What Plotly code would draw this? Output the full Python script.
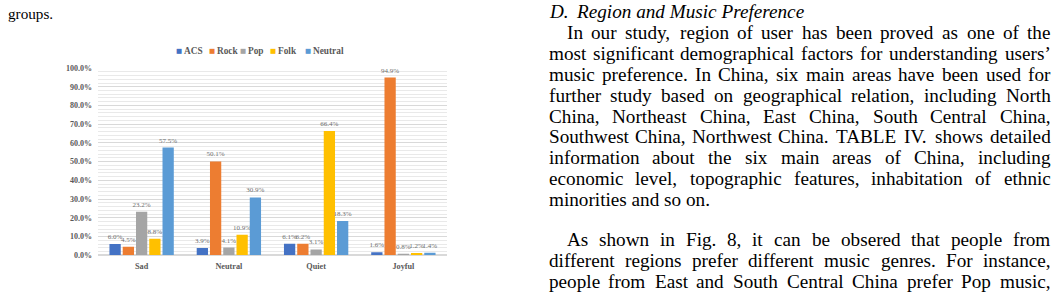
import plotly.graph_objects as go

W, H = 1056, 302

# ---------------- chart data ----------------
categories = ["Sad", "Neutral", "Quiet", "Joyful"]
acs_values = [6.0, 3.9, 6.1, 1.6]
rock_values = [4.5, 50.1, 6.2, 94.9]
pop_values = [23.2, 4.1, 3.1, 0.8]
folk_values = [8.8, 10.9, 66.4, 1.2]
neutral_values = [57.5, 30.9, 18.3, 1.4]
series_names = ["ACS", "Rock", "Pop", "Folk", "Neutral"]
series_colors = ["#4472C4", "#ED7D31", "#A5A5A5", "#FFC000", "#5B9BD5"]
y_tick_values = [0, 10, 20, 30, 40, 50, 60, 70, 80, 90, 100]
y_tick_labels = ["0.0%", "10.0%", "20.0%", "30.0%", "40.0%", "50.0%",
                 "60.0%", "70.0%", "80.0%", "90.0%", "100.0%"]

# ---------------- page text ----------------
caption_tail = "groups."
heading_number = "D."
heading_title = "Region and Music Preference"
paragraph_1 = [
    "In our study, region of user has been proved as one of the",
    "most significant demographical factors for understanding users\u2019",
    "music preference. In China, six main areas have been used for",
    "further study based on geographical relation, including North",
    "China, Northeast China, East China, South Central China,",
    "Southwest China, Northwest China. TABLE IV. shows detailed",
    "information about the six main areas of China, including",
    "economic level, topographic features, inhabitation of ethnic",
    "minorities and so on.",
]
paragraph_2 = [
    "As shown in Fig. 8, it can be obsered that people from",
    "different regions prefer different music genres. For instance,",
    "people from East and South Central China prefer Pop music,",
]

all_series = [acs_values, rock_values, pop_values, folk_values, neutral_values]

fig = go.Figure()
for name, vals, col in zip(series_names, all_series, series_colors):
    fig.add_trace(go.Bar(
        x=categories, y=vals, name=name,
        marker=dict(color=col, line=dict(width=0)),
        text=[f"{v:.1f}%" for v in vals],
        textposition="outside",
        constraintext="none",
        cliponaxis=False,
        textfont=dict(family="Liberation Serif", size=7, color="#6f6f6f"),
        showlegend=False,
    ))

SERIF = "Liberation Serif"
annotations = []

def ax(x):
    return x / W

def ay(y):
    return 1 - y / H

# manual legend (small squares + bold labels)
legend_square_x = [179, 211.5, 242.5, 272.5, 307.5]
legend_label_x = [183, 215.5, 246.5, 277, 311.5]
for name, col, sx, lx in zip(series_names, series_colors, legend_square_x, legend_label_x):
    annotations.append(dict(x=ax(sx), y=ay(48), xref="paper", yref="paper",
                            xanchor="center", yanchor="middle", showarrow=False,
                            text="\u25A0", borderpad=0,
                            font=dict(family="DejaVu Sans", size=6.5, color=col)))
    annotations.append(dict(x=ax(lx), y=ay(48), xref="paper", yref="paper",
                            xanchor="left", yanchor="middle", showarrow=False,
                            text=name, borderpad=0,
                            font=dict(family=SERIF, size=9.3, color="#595959", weight="bold")))

# Times / Liberation Serif advance widths (per 1000 em)
TW = {' ': 250, ',': 250, '.': 250, '\u2019': 333, "'": 180, '-': 333, ':': 278, ';': 278}
TW.update({d: 500 for d in "0123456789"})
TW.update(dict(zip("ABCDEFGHIJKLMNOPQRSTUVWXYZ",
                   [722, 667, 667, 722, 611, 556, 722, 722, 333, 389, 722, 611, 889,
                    722, 722, 556, 722, 667, 556, 611, 722, 722, 944, 722, 722, 611])))
TW.update(dict(zip("abcdefghijklmnopqrstuvwxyz",
                   [444, 500, 444, 500, 444, 333, 500, 500, 278, 278, 500, 278, 778,
                    500, 500, 500, 500, 333, 389, 278, 500, 500, 722, 500, 500, 444])))

BODY = 19.2
LEFT = 547.5
INDENT = 565.5
RIGHT = 1049.5

def tw(s, size):
    return sum(TW.get(c, 500) for c in s) / 1000.0 * size

def add_word(text, x, y, size=BODY):
    annotations.append(dict(x=ax(x), y=ay(y), xref="paper", yref="paper",
                            xanchor="left", yanchor="middle", showarrow=False,
                            text=text, borderpad=0,
                            font=dict(family=SERIF, size=size, color="#000000")))

def add_line(line, x0, y, justify):
    if not justify:
        add_word(line, x0, y)
        return
    words = line.split(" ")
    widths = [tw(w, BODY) for w in words]
    gap = (RIGHT - x0 - sum(widths)) / (len(words) - 1)
    x = x0
    for w, wd in zip(words, widths):
        add_word(w, x, y)
        x += wd + gap

# caption tail of previous column
annotations.append(dict(x=ax(6.5), y=ay(9.5), xref="paper", yref="paper",
                        xanchor="left", yanchor="middle", showarrow=False,
                        text=caption_tail, borderpad=0,
                        font=dict(family=SERIF, size=15.2, color="#000000")))

# heading
TOP = 8
add_word("<i>" + heading_number + "</i>", LEFT, TOP)
add_word("<i>" + heading_title + "</i>", 575, TOP)

LINE = 21.5
y = TOP + 21.5
for i, line in enumerate(paragraph_1):
    add_line(line, INDENT if i == 0 else LEFT, y, i < len(paragraph_1) - 1)
    y += LINE
y += 41.5 - LINE
for i, line in enumerate(paragraph_2):
    add_line(line, INDENT if i == 0 else LEFT, y, True)
    y += LINE

fig.update_layout(
    width=W, height=H,
    margin=dict(l=0, r=0, t=0, b=0),
    paper_bgcolor="white", plot_bgcolor="white",
    barmode="group", bargap=0.24, bargroupgap=0.15,
    annotations=annotations,
    xaxis=dict(domain=[98 / W, 447 / W], showline=True, linecolor="#d9d9d9",
               linewidth=1, ticks="", showgrid=False,
               tickfont=dict(family=SERIF, size=8.2, color="#595959", weight="bold"),
               ticklabelstandoff=3),
    yaxis=dict(domain=[1 - 259 / H, 1 - 66 / H], range=[0, 100],
               tickmode="array", tickvals=y_tick_values, ticktext=y_tick_labels,
               showgrid=True, gridcolor="#d9d9d9", gridwidth=1,
               zeroline=True, zerolinecolor="#d9d9d9",
               minor=dict(dtick=2, showgrid=True, gridcolor="#e9e9e9", gridwidth=1),
               ticks="", ticklabelstandoff=5,
               tickfont=dict(family=SERIF, size=8, color="#595959", weight="bold")),
)

fig.write_html("out.html")
